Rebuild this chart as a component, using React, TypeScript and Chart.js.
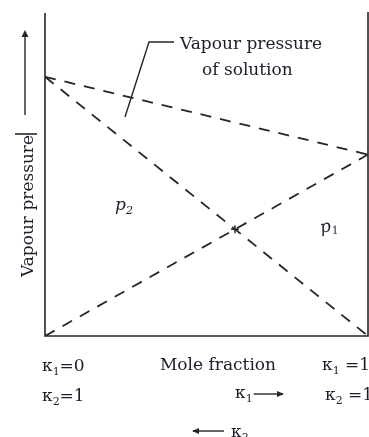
import React, { useEffect, useRef } from "react";
import { Chart, registerables } from "chart.js";

Chart.register(...registerables);

// Mole fraction of component 1 (κ₁) at the two ends of the axis
const moleFractionX1 = [0, 1];
// Partial vapour pressure of component 1 (p₁), relative units
const p1Values = [0, 0.56];
// Partial vapour pressure of component 2 (p₂), relative units
const p2Values = [0.8, 0];
// Total vapour pressure of solution
const totalValues = [0.8, 0.56];

const FONT = '"DejaVu Serif", "Liberation Serif", serif';
const INK = "#1d1d2b";
const LINE = "#262626";

type Part = { t: string; sub?: boolean };

function drawRich(ctx: CanvasRenderingContext2D, parts: Part[], x: number, y: number, size: number, style = "") {
  let cx = x;
  for (const p of parts) {
    if (p.sub) {
      ctx.font = `${style}${Math.round(size * 0.62)}px ${FONT}`;
      ctx.fillText(p.t, cx, y + size * 0.22);
    } else {
      ctx.font = `${style}${size}px ${FONT}`;
      ctx.fillText(p.t, cx, y);
    }
    cx += ctx.measureText(p.t).width;
  }
  return cx;
}

function hArrow(ctx: CanvasRenderingContext2D, x1: number, x2: number, y: number) {
  ctx.beginPath();
  ctx.moveTo(x1, y);
  ctx.lineTo(x2, y);
  ctx.stroke();
  const dir = Math.sign(x2 - x1);
  ctx.beginPath();
  ctx.moveTo(x2 + dir * 1, y);
  ctx.lineTo(x2 - dir * 6, y - 3);
  ctx.lineTo(x2 - dir * 6, y + 3);
  ctx.closePath();
  ctx.fill();
}

const decorPlugin = {
  id: "decor",
  afterDatasetsDraw(chart: any) {
    const ctx: CanvasRenderingContext2D = chart.ctx;
    const { left, right, top, bottom } = chart.chartArea;
    ctx.save();
    // frame: left, right, bottom
    ctx.strokeStyle = LINE;
    ctx.fillStyle = LINE;
    ctx.lineWidth = 1.6;
    ctx.setLineDash([]);
    ctx.beginPath();
    ctx.moveTo(left, top + 1);
    ctx.lineTo(left, bottom);
    ctx.lineTo(right, bottom);
    ctx.lineTo(right, top);
    ctx.stroke();

    // y arrow
    ctx.lineWidth = 1.4;
    ctx.beginPath();
    ctx.moveTo(25, 115);
    ctx.lineTo(25, 34);
    ctx.stroke();
    ctx.beginPath();
    ctx.moveTo(25, 30);
    ctx.lineTo(21.5, 37);
    ctx.lineTo(28.5, 37);
    ctx.closePath();
    ctx.fill();

    // leader line for annotation
    ctx.lineWidth = 1.4;
    ctx.beginPath();
    ctx.moveTo(174, 42);
    ctx.lineTo(149, 42);
    ctx.lineTo(125, 117);
    ctx.stroke();

    // intersection cross
    const xs = chart.scales.x;
    const ys = chart.scales.y;
    const xi = p2Values[0] / (p2Values[0] + p1Values[1]);
    const yi = p1Values[1] * xi;
    const px = xs.getPixelForValue(xi);
    const py = ys.getPixelForValue(yi);
    ctx.lineWidth = 1.4;
    ctx.beginPath();
    ctx.moveTo(px - 4, py);
    ctx.lineTo(px + 4, py);
    ctx.moveTo(px, py - 4);
    ctx.lineTo(px, py + 4);
    ctx.stroke();

    // texts
    ctx.fillStyle = INK;
    ctx.textBaseline = "alphabetic";
    ctx.textAlign = "left";
    ctx.font = `17px ${FONT}`;
    ctx.fillText("Vapour pressure", 180, 49);
    ctx.fillText("of solution", 202, 75);

    // y label rotated
    ctx.save();
    ctx.translate(33, 206);
    ctx.rotate(-Math.PI / 2);
    ctx.textAlign = "center";
    ctx.font = `17px ${FONT}`;
    ctx.fillText("Vapour pressure", 0, 0);
    ctx.restore();
    ctx.lineWidth = 1.6;
    ctx.beginPath();
    ctx.moveTo(15, 134);
    ctx.lineTo(37, 134);
    ctx.stroke();

    // p labels
    drawRich(ctx, [{ t: "p" }, { t: "2", sub: true }], 115, 210, 17, "italic ");
    ctx.save();
    ctx.translate(321, 233);
    ctx.rotate(-0.2);
    drawRich(ctx, [{ t: "p" }, { t: "1", sub: true }], 0, 0, 17, "italic ");
    ctx.restore();

    // bottom labels
    ctx.textAlign = "left";
    drawRich(ctx, [{ t: "κ" }, { t: "1", sub: true }, { t: "=0" }], 42, 371, 17);
    ctx.font = `17px ${FONT}`;
    ctx.textAlign = "center";
    ctx.fillText("Mole fraction", 218, 370);
    ctx.textAlign = "left";
    drawRich(ctx, [{ t: "κ" }, { t: "1", sub: true }, { t: " =1" }], 322, 370, 17);
    drawRich(ctx, [{ t: "κ" }, { t: "2", sub: true }, { t: "=1" }], 42, 401, 17);
    const ex = drawRich(ctx, [{ t: "κ" }, { t: "1", sub: true }], 235, 398, 17);
    ctx.fillStyle = LINE;
    ctx.lineWidth = 1.4;
    hArrow(ctx, ex + 1, 283, 394);
    ctx.fillStyle = INK;
    drawRich(ctx, [{ t: "κ" }, { t: "2", sub: true }, { t: " =1" }], 325, 400, 17);
    ctx.fillStyle = LINE;
    hArrow(ctx, 224, 193, 431);
    ctx.fillStyle = INK;
    drawRich(ctx, [{ t: "κ" }, { t: "2", sub: true }], 231, 437, 17);

    ctx.restore();
  },
};

function VapourChart() {
  const ref = useRef<HTMLCanvasElement | null>(null);
  useEffect(() => {
    if (!ref.current) return;
    const mk = (ys: number[]) => moleFractionX1.map((x, i) => ({ x, y: ys[i] }));
    const dashed = {
      showLine: true,
      borderColor: LINE,
      borderWidth: 1.8,
      borderDash: [11, 9],
      pointRadius: 0,
      fill: false,
    };
    const chart = new Chart(ref.current, {
      type: "scatter",
      data: {
        datasets: [
          { label: "p2", data: mk(p2Values), ...dashed },
          { label: "p1", data: mk(p1Values), ...dashed },
          { label: "Vapour pressure of solution", data: mk(totalValues), ...dashed },
        ],
      },
      options: {
        animation: false,
        responsive: false,
        events: [],
        layout: { padding: { left: 45, right: 1, top: 12, bottom: 101 } },
        plugins: { legend: { display: false }, tooltip: { enabled: false }, title: { display: false } },
        scales: {
          x: { type: "linear", min: 0, max: 1, display: false },
          y: { type: "linear", min: 0, max: 1, display: false },
        },
      },
      plugins: [decorPlugin],
    });
    return () => chart.destroy();
  }, []);
  return <canvas ref={ref} width={369} height={437} style={{ display: "block" }} />;
}

export default function App() {
  return (
    <div style={{ position: "absolute", left: 0, top: 0, width: 369, height: 437, background: "#fff" }}>
      <VapourChart />
    </div>
  );
}
